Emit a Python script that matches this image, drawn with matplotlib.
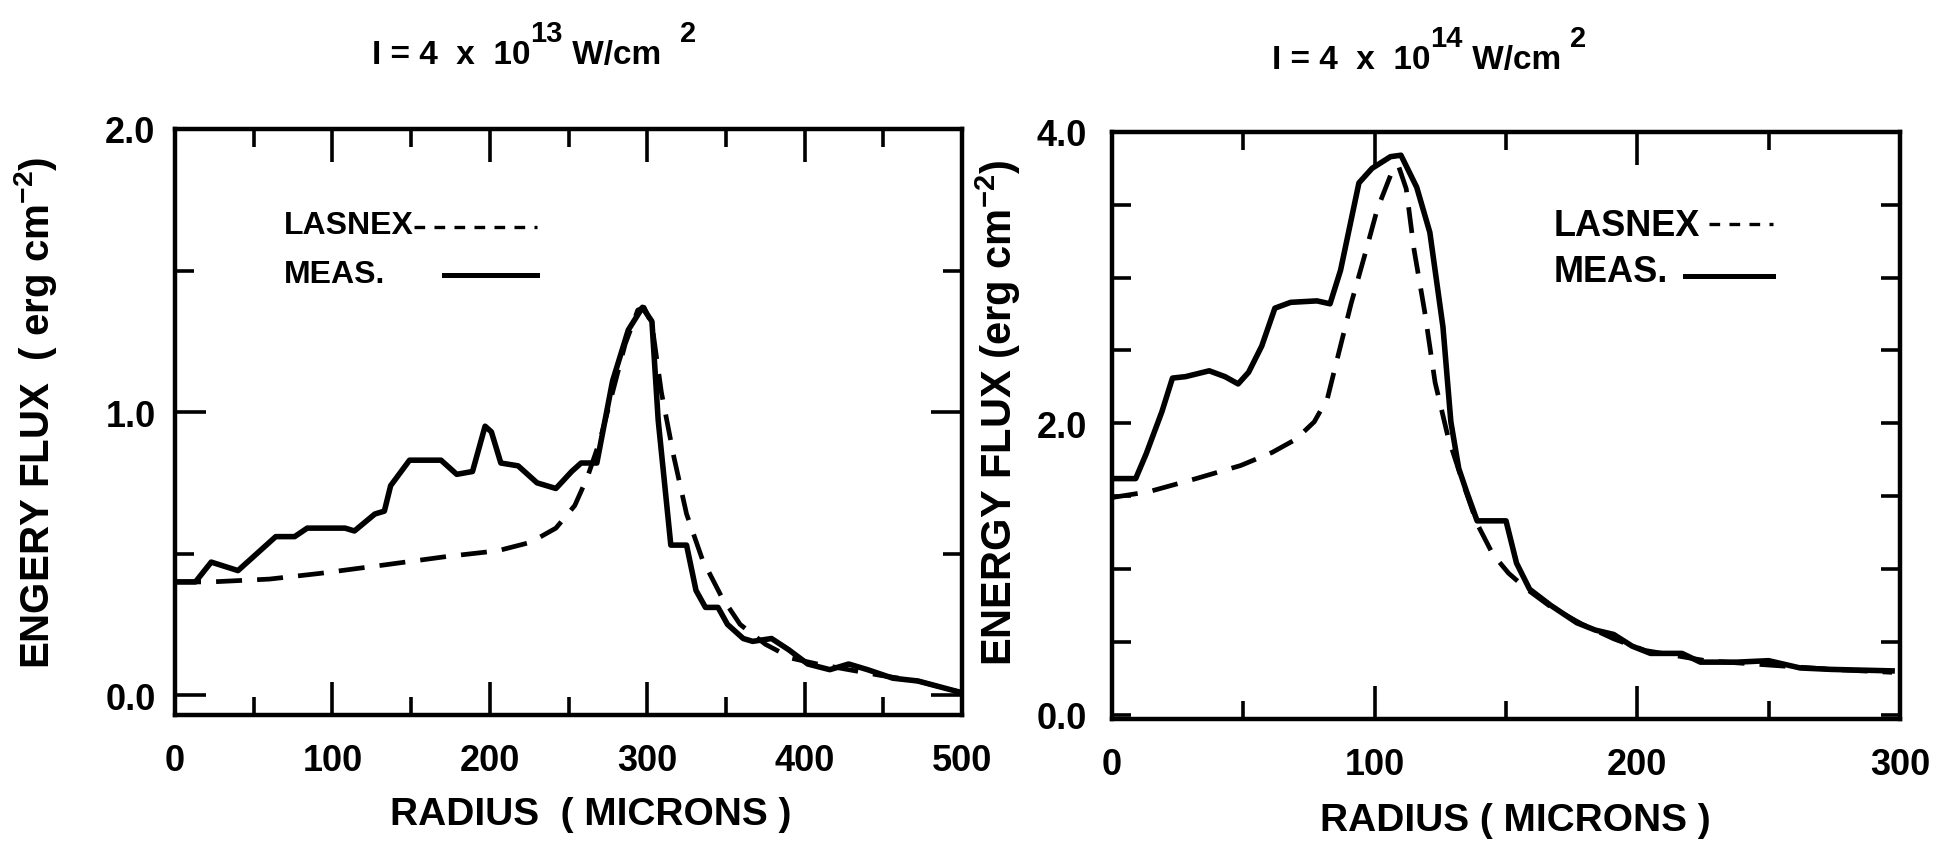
import matplotlib
matplotlib.use("Agg")
import matplotlib.pyplot as plt

# --- fonts: bold sans like the scanned figure ---
plt.rcParams['font.family'] = ['Liberation Sans', 'DejaVu Sans']
plt.rcParams['font.weight'] = 'bold'
plt.rcParams['mathtext.fontset'] = 'custom'
plt.rcParams['mathtext.rm'] = 'Liberation Sans:bold'
plt.rcParams['mathtext.bf'] = 'Liberation Sans:bold'
plt.rcParams['mathtext.default'] = 'bf'

# --- left panel data: I = 4e13 W/cm^2 ---
left_meas_r = [0, 13, 23, 40, 52, 64, 76, 84, 108, 114, 127, 133, 137, 149, 169, 179, 189,
               197, 201, 207, 218, 230, 242, 252, 258, 268, 278, 288, 297, 303, 307, 313,
               315, 325, 331, 337, 345, 351, 361, 367, 379, 390, 402, 416, 428, 440, 456,
               472, 499]
left_meas_flux = [0.40, 0.40, 0.47, 0.44, 0.50, 0.56, 0.56, 0.59, 0.59, 0.58, 0.64, 0.65, 0.74,
                  0.83, 0.83, 0.78, 0.79, 0.95, 0.93, 0.82, 0.81, 0.75, 0.73, 0.79, 0.82, 0.82,
                  1.11, 1.29, 1.37, 1.32, 0.97, 0.64, 0.53, 0.53, 0.37, 0.31, 0.31, 0.25, 0.20,
                  0.19, 0.20, 0.16, 0.11, 0.09, 0.11, 0.09, 0.06, 0.05, 0.01]
left_lasnex_r = [0, 23, 60, 92, 133, 173, 205, 226, 242, 254, 262, 270, 278, 286, 294, 298,
                 303, 309, 317, 325, 335, 347, 359, 375, 392, 408, 428, 448, 472, 499]
left_lasnex_flux = [0.40, 0.40, 0.41, 0.43, 0.46, 0.49, 0.51, 0.54, 0.59, 0.67, 0.77, 0.90,
                    1.07, 1.24, 1.36, 1.37, 1.31, 1.07, 0.84, 0.64, 0.48, 0.35, 0.25, 0.18,
                    0.13, 0.11, 0.09, 0.07, 0.05, 0.01]

# --- right panel data: I = 4e14 W/cm^2 ---
right_meas_r = [0, 9, 13, 19, 23, 28, 37, 43, 48, 52, 57, 62, 68, 78, 83, 87, 94, 99, 106,
                110, 116, 121, 126, 129, 132, 135, 139, 150, 154, 159, 167, 177, 184, 191,
                198, 205, 217, 224, 238, 250, 262, 274, 297]
right_meas_flux = [1.62, 1.62, 1.79, 2.08, 2.31, 2.32, 2.36, 2.32, 2.27, 2.35, 2.53, 2.79,
                   2.83, 2.84, 2.82, 3.05, 3.65, 3.75, 3.83, 3.84, 3.62, 3.31, 2.66, 2.01,
                   1.69, 1.53, 1.33, 1.33, 1.04, 0.86, 0.75, 0.63, 0.58, 0.55, 0.47, 0.42,
                   0.42, 0.36, 0.36, 0.37, 0.32, 0.31, 0.30]
right_lasnex_r = [0, 14, 32, 49, 61, 70, 77, 82, 86, 91, 96, 101, 106, 109, 112, 115, 119,
                  123, 128, 134, 139, 145, 151, 158, 167, 179, 191, 203, 226, 250, 274, 297]
right_lasnex_flux = [1.49, 1.53, 1.62, 1.71, 1.80, 1.89, 2.01, 2.17, 2.46, 2.82, 3.14, 3.47,
                     3.70, 3.77, 3.61, 3.19, 2.77, 2.28, 1.90, 1.57, 1.31, 1.10, 0.97, 0.86,
                     0.74, 0.62, 0.52, 0.44, 0.37, 0.34, 0.31, 0.29]

# ticks (major = labelled, minor = unlabelled)
left_xmajor = [0, 100, 200, 300, 400, 500]
left_xminor = [50, 150, 250, 350, 450]
left_ymajor = [0.0, 1.0, 2.0]
left_yminor = [0.5, 1.5]
right_xmajor = [0, 100, 200, 300]
right_xminor = [50, 150, 250]
right_ymajor = [0.0, 2.0, 4.0]
right_yminor = [0.5, 1.0, 1.5, 2.5, 3.0, 3.5]

fig = plt.figure(figsize=(19.36, 8.45), dpi=100)
ax1 = fig.add_axes([0.0904, 0.1527, 0.4065, 0.6935])
ax2 = fig.add_axes([0.5744, 0.148, 0.407, 0.6947])

solid_kw = dict(color='black', lw=4.0, solid_joinstyle='round')
dash_kw = dict(color='black', lw=3.4, linestyle=(0, (5.5, 3.2)))
TICK_FS = 26
LAB_FS = 28


def style_axes(ax, xmaj, xmin, ymaj, ymin, ymaj_len, ypad):
    for s in ax.spines.values():
        s.set_linewidth(3.2)
    ax.set_xticks(xmaj)
    ax.set_xticks(xmin, minor=True)
    ax.set_xticklabels([str(v) for v in xmaj])
    ax.set_yticks(ymaj)
    ax.set_yticks(ymin, minor=True)
    ax.set_yticklabels(['%.1f' % v for v in ymaj])
    ax.tick_params(which='both', direction='in', width=2.6, top=True, right=True,
                   labelsize=TICK_FS)
    ax.tick_params(axis='x', which='major', length=24, pad=20)
    ax.tick_params(axis='x', which='minor', length=13)
    ax.tick_params(axis='y', which='major', length=ymaj_len, pad=ypad)
    ax.tick_params(axis='y', which='minor', length=14)
    for lab in ax.get_xticklabels() + ax.get_yticklabels():
        lab.set_fontweight('bold')


# --- left panel ---
ax1.plot(left_lasnex_r, left_lasnex_flux, **dash_kw)
ax1.plot(left_meas_r, left_meas_flux, **solid_kw)
ax1.set_xlim(0, 500)
ax1.set_ylim(-0.07, 2.0)
style_axes(ax1, left_xmajor, left_xminor, left_ymajor, left_yminor, 22, 14)

# hand-drawn legend
ax1.text(0.138, 0.836, 'LASNEX', transform=ax1.transAxes, fontsize=23, va='center')
ax1.plot([0.304, 0.46], [0.832, 0.832], transform=ax1.transAxes, color='black', lw=2.4,
         linestyle=(0, (3.2, 2.8)))
ax1.text(0.138, 0.752, 'MEAS.', transform=ax1.transAxes, fontsize=23, va='center')
ax1.plot([0.342, 0.46], [0.75, 0.75], transform=ax1.transAxes, color='black', lw=3.6)

# --- right panel ---
ax2.plot(right_lasnex_r, right_lasnex_flux, **dash_kw)
ax2.plot(right_meas_r, right_meas_flux, **solid_kw)
ax2.set_xlim(0, 300)
ax2.set_ylim(-0.03, 4.0)
style_axes(ax2, right_xmajor, right_xminor, right_ymajor, right_yminor, 14, 18)

ax2.text(0.56, 0.841, 'LASNEX', transform=ax2.transAxes, fontsize=26, va='center')
ax2.plot([0.757, 0.839], [0.843, 0.843], transform=ax2.transAxes, color='black', lw=2.4,
         linestyle=(0, (3.2, 2.8)))
ax2.text(0.56, 0.762, 'MEAS.', transform=ax2.transAxes, fontsize=26, va='center')
ax2.plot([0.727, 0.839], [0.755, 0.755], transform=ax2.transAxes, color='black', lw=3.6)


# --- titles with full-size raised exponents, laid out piece by piece ---
renderer = fig.canvas.get_renderer()
FIG_W, FIG_H = fig.get_size_inches() * fig.dpi


def piece_title(xc_px, base_px, parts, fs=24, sup_fs=21, rise_px=22):
    items = []
    x = 0.0
    for s, sup in parts:
        y = base_px - rise_px if sup else base_px
        t = fig.text(0, 1 - y / FIG_H, s, fontsize=sup_fs if sup else fs,
                     ha='left', va='baseline')
        w = t.get_window_extent(renderer).width
        items.append((t, x))
        x += w
    x0 = xc_px - x / 2
    for t, off in items:
        t.set_x((x0 + off) / FIG_W)


piece_title(534, 64, [('I = 4  x  10', False), ('13', True), (' W/cm  ', False), ('2', True)])
piece_title(1429, 69, [('I = 4  x  10', False), ('14', True), (' W/cm ', False), ('2', True)])

# --- axis labels placed on the figure ---
fig.text(0.0181, 0.511, 'ENGERY FLUX  ( erg cm$^{-2}$)', fontsize=29,
         rotation=90, ha='center', va='center')
fig.text(0.5155, 0.511, 'ENERGY FLUX (erg cm$^{-2}$)', fontsize=30,
         rotation=90, ha='center', va='center')
fig.text(0.305, 0.0355, 'RADIUS  ( MICRONS )', fontsize=LAB_FS, ha='center', va='center')
fig.text(0.7825, 0.0284, 'RADIUS ( MICRONS )', fontsize=LAB_FS, ha='center', va='center')

fig.savefig('out.png', dpi=100)
